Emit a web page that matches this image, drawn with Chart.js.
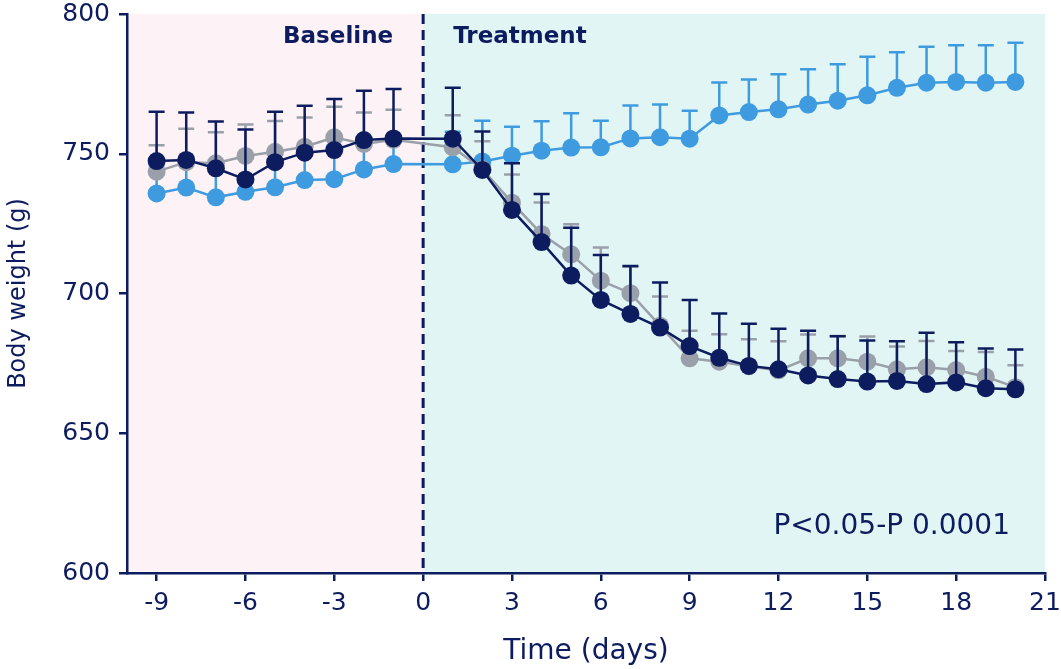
<!DOCTYPE html>
<html lang="en">
<head>
<meta charset="UTF-8">
<title>Body weight over time</title>
<style>
  html, body { margin: 0; padding: 0; background: #ffffff; }
</style>
</head>
<body>
<canvas id="weightChart" width="1061" height="669"></canvas>
<script src="https://cdn.jsdelivr.net/npm/chart.js"></script>
<script>
// days: baseline -9..-1, treatment 1..20
var days = [-9, -8, -7, -6, -5, -4, -3, -2, -1,
            1, 2, 3, 4, 5, 6, 7, 8, 9, 10, 11, 12, 13, 14, 15, 16, 17, 18, 19, 20];

var navyMean = [747.4, 747.8, 744.8, 740.8, 747.0, 750.4, 751.3, 754.9, 755.5,
                755.4, 744.2, 729.9, 718.4, 706.4, 697.7, 692.7, 687.8, 681.2, 677.0,
                674.1, 672.9, 670.7, 669.4, 668.5, 668.7, 667.6, 668.2, 666.1, 665.7];
var navyErr  = [17.6, 17.0, 16.7, 17.9, 18.0, 16.8, 18.3, 17.6, 17.7,
                18.2, 13.8, 16.7, 17.2, 17.1, 16.1, 17.1, 16.1, 16.5, 15.8,
                15.1, 14.5, 16.0, 15.3, 14.7, 14.2, 18.4, 14.4, 14.2, 14.3];

var greyMean = [743.6, 747.0, 746.6, 749.2, 750.7, 752.5, 755.9, 753.5, 755.0,
                752.3, 744.5, 732.5, 721.3, 714.0, 704.6, 700.1, 688.5, 676.8, 675.6,
                674.0, 672.5, 676.8, 676.8, 675.6, 672.9, 673.6, 672.6, 670.2, 666.5];
var greyErr  = [9.4, 11.9, 11.1, 11.3, 11.0, 10.5, 10.9, 11.3, 10.7,
                11.5, 10.0, 10.1, 11.3, 10.8, 11.9, 9.5, 10.4, 9.9, 9.8,
                9.6, 10.4, 8.5, 8.0, 9.0, 8.1, 9.4, 6.8, 8.9, 7.8];

var blueMean = [735.8, 737.9, 734.4, 736.4, 738.0, 740.6, 740.9, 744.4, 746.3,
                746.2, 747.2, 749.3, 751.1, 752.2, 752.3, 755.5, 755.9, 755.4, 763.7,
                764.9, 765.9, 767.6, 769.0, 770.9, 773.6, 775.4, 775.7, 775.4, 775.7];
var blueErr  = [10, 9, 10, 12, 12, 11, 12, 9, 9,
                11.7, 14.6, 10.4, 10.5, 12.3, 9.5, 11.8, 11.7, 10.0, 11.8,
                11.7, 12.5, 12.6, 13.0, 13.8, 12.7, 12.9, 13.1, 13.4, 14.0];

var xTickValues = [-9, -6, -3, 0, 3, 6, 9, 12, 15, 18, 21];
var yTickValues = [600, 650, 700, 750, 800];

var NAVY = '#0c1c5f';
var GREY = '#9aa0a9';
var BLUE = '#3e9be0';
var FONT = "'DejaVu Sans', Verdana, sans-serif";

function points(means) {
    return days.map(function (d, i) { return { x: d, y: means[i] }; });
}

// shaded phases + dashed divider + text labels
var phasePlugin = {
    id: 'phases',
    beforeDraw: function (chart) {
        var ctx = chart.ctx, area = chart.chartArea, xs = chart.scales.x;
        var x0 = xs.getPixelForValue(0);
        ctx.save();
        ctx.fillStyle = '#fdf2f5';
        ctx.fillRect(area.left, area.top, x0 - area.left, area.bottom - area.top);
        ctx.fillStyle = '#e2f5f5';
        ctx.fillRect(x0, area.top, area.right - x0, area.bottom - area.top);
        ctx.restore();
    },
    beforeDatasetsDraw: function (chart) {
        var ctx = chart.ctx, area = chart.chartArea, xs = chart.scales.x;
        var x0 = xs.getPixelForValue(0);
        ctx.save();
        ctx.strokeStyle = NAVY;
        ctx.lineWidth = 3;
        ctx.setLineDash([10, 6]);
        ctx.beginPath();
        ctx.moveTo(x0, area.top);
        ctx.lineTo(x0, area.bottom);
        ctx.stroke();
        ctx.setLineDash([]);

        ctx.fillStyle = NAVY;
        ctx.textBaseline = 'middle';
        ctx.font = 'bold 23px ' + FONT;
        ctx.textAlign = 'right';
        ctx.fillText('Baseline', x0 - 30, area.top + 23);
        ctx.textAlign = 'left';
        ctx.fillText('Treatment', x0 + 30, area.top + 23);

        ctx.font = '28px ' + FONT;
        ctx.textAlign = 'right';
        ctx.fillText('P<0.05-P 0.0001', area.right - 35, area.bottom - 46);
        ctx.restore();
    }
};

// upper SEM bars, drawn under each series' own line and points
var errorPlugin = {
    id: 'errorBars',
    beforeDatasetDraw: function (chart, args) {
        var ds = chart.data.datasets[args.index];
        if (!ds.errors) return;
        var ctx = chart.ctx, xs = chart.scales.x, ys = chart.scales.y;
        ctx.save();
        ctx.strokeStyle = ds.borderColor;
        ctx.lineWidth = 2.5;
        ds.data.forEach(function (p, i) {
            var px = xs.getPixelForValue(p.x);
            var py = ys.getPixelForValue(p.y);
            var top = ys.getPixelForValue(p.y + ds.errors[i]);
            ctx.beginPath();
            ctx.moveTo(px, py);
            ctx.lineTo(px, top);
            ctx.moveTo(px - 8, top);
            ctx.lineTo(px + 8, top);
            ctx.stroke();
        });
        ctx.restore();
    }
};

function series(label, means, errs, color) {
    return {
        label: label,
        data: points(means),
        errors: errs,
        borderColor: color,
        backgroundColor: color,
        borderWidth: 2.5,
        pointRadius: 9,
        pointHoverRadius: 9,
        pointBorderWidth: 0,
        pointBackgroundColor: color,
        tension: 0,
        clip: false
    };
}

var ctx = document.getElementById('weightChart').getContext('2d');
var weightChart = new Chart(ctx, {
    type: 'line',
    data: {
        datasets: [
            series('Group 1', navyMean, navyErr, NAVY),
            series('Group 2', greyMean, greyErr, GREY),
            series('Group 3', blueMean, blueErr, BLUE)
        ]
    },
    options: {
        responsive: false,
        animation: false,
        layout: { padding: { top: 14, right: 16, left: 0, bottom: 0 } },
        plugins: {
            legend: { display: false },
            tooltip: { enabled: false }
        },
        scales: {
            x: {
                type: 'linear',
                min: -10,
                max: 21,
                afterBuildTicks: function (scale) {
                    scale.ticks = xTickValues.map(function (v) { return { value: v }; });
                },
                afterFit: function (scale) {
                    scale.height = 96;
                    scale.paddingLeft = 0;
                    scale.paddingRight = 0;
                },
                ticks: {
                    color: NAVY,
                    font: { family: FONT, size: 25 },
                    padding: 7,
                    maxRotation: 0,
                    autoSkip: false
                },
                grid: { drawOnChartArea: false, tickLength: 8, color: NAVY, lineWidth: 2.5 },
                border: { color: NAVY, width: 2.5 },
                title: {
                    display: true,
                    text: 'Time (days)',
                    color: NAVY,
                    font: { family: FONT, size: 28 },
                    padding: { top: 0, bottom: 0 }
                }
            },
            y: {
                min: 600,
                max: 800,
                afterBuildTicks: function (scale) {
                    scale.ticks = yTickValues.map(function (v) { return { value: v }; });
                },
                afterFit: function (scale) {
                    scale.width = 127;
                    scale.paddingTop = 0;
                    scale.paddingBottom = 0;
                },
                ticks: {
                    color: NAVY,
                    font: { family: FONT, size: 25 },
                    padding: 9
                },
                grid: { drawOnChartArea: false, tickLength: 8, color: NAVY, lineWidth: 2.5 },
                border: { color: NAVY, width: 2.5 },
                title: {
                    display: true,
                    text: 'Body weight (g)',
                    color: NAVY,
                    font: { family: FONT, size: 24 },
                    padding: { top: 4, bottom: 0 }
                }
            }
        }
    },
    plugins: [phasePlugin, errorPlugin]
});
</script>
</body>
</html>
